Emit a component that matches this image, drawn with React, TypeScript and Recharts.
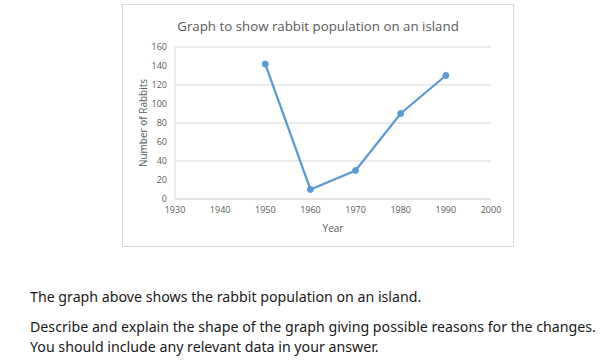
import { LineChart, Line, XAxis, YAxis, CartesianGrid, Label } from 'recharts';

const years = [1950, 1960, 1970, 1980, 1990];
const rabbits = [142, 10, 30, 90, 130];
const xTicks = [1930, 1940, 1950, 1960, 1970, 1980, 1990, 2000];
const yTicks = [0, 20, 40, 60, 80, 100, 120, 140, 160];

const data = years.map((year, i) => ({ year, rabbits: rabbits[i] }));

const chartFont = '"Open Sans", "Noto Sans", sans-serif';
const textFont = '"Noto Sans", "Open Sans", sans-serif';
const grey = '#595959';

export default function App() {
  return (
    <div style={{ position: 'absolute', left: 0, top: 0, width: 602, height: 361, background: '#fff', fontFamily: textFont }}>
      <div style={{ position: 'absolute', left: 122, top: 4, width: 392, height: 243, border: '1px solid #d9d9d9', boxSizing: 'border-box' }}>
        <div style={{ position: 'absolute', left: 0, right: 0, top: 12, textAlign: 'center', fontFamily: chartFont, fontSize: 13.3, color: grey }}>
          Graph to show rabbit population on an island
        </div>
        <LineChart width={390} height={241} data={data} margin={{ top: 42, right: 22, left: 0, bottom: 0 }}
          style={{ position: 'absolute', left: 0, top: 0 }}>
          <CartesianGrid vertical={false} stroke="#d9d9d9" />
          <XAxis
            dataKey="year"
            type="number"
            domain={[1930, 2000]}
            ticks={xTicks}
            height={47}
            tick={{ fill: grey, fontSize: 9, fontFamily: chartFont }}
            tickLine={false}
            stroke="#d9d9d9"
          >
            <Label
              content={({ viewBox }: any) => (
                <text x={viewBox.x + viewBox.width / 2} y={viewBox.y + 33} textAnchor="middle" fill={grey} fontSize={10} fontFamily={chartFont}>
                  Year
                </text>
              )}
            />
          </XAxis>
          <YAxis
            type="number"
            domain={[0, 160]}
            ticks={yTicks}
            width={52}
            tick={{ fill: grey, fontSize: 9, fontFamily: chartFont }}
            tickLine={false}
            stroke="#d9d9d9"
          >
            <Label
              content={({ viewBox }: any) => {
                const cx = 20;
                const cy = viewBox.y + viewBox.height / 2;
                return (
                  <text x={cx} y={cy} transform={`rotate(-90 ${cx} ${cy})`} textAnchor="middle" dominantBaseline="central" fill={grey} fontSize={10} fontFamily={chartFont}>
                    Number of Rabbits
                  </text>
                );
              }}
            />
          </YAxis>
          <Line
            type="linear"
            dataKey="rabbits"
            stroke="#5b9bd5"
            strokeWidth={2.25}
            dot={{ r: 3, fill: '#5b9bd5', stroke: '#5b9bd5', strokeWidth: 1 }}
            isAnimationActive={false}
          />
        </LineChart>
      </div>
      <div style={{ position: 'absolute', left: 30, top: 287, fontSize: 14.2, color: '#1a1a1a', lineHeight: '20px', whiteSpace: 'nowrap' }}>
        <div>The graph above shows the rabbit population on an island.</div>
        <div style={{ marginTop: 10 }}>Describe and explain the shape of the graph giving possible reasons for the changes.</div>
        <div>You should include any relevant data in your answer.</div>
      </div>
    </div>
  );
}
